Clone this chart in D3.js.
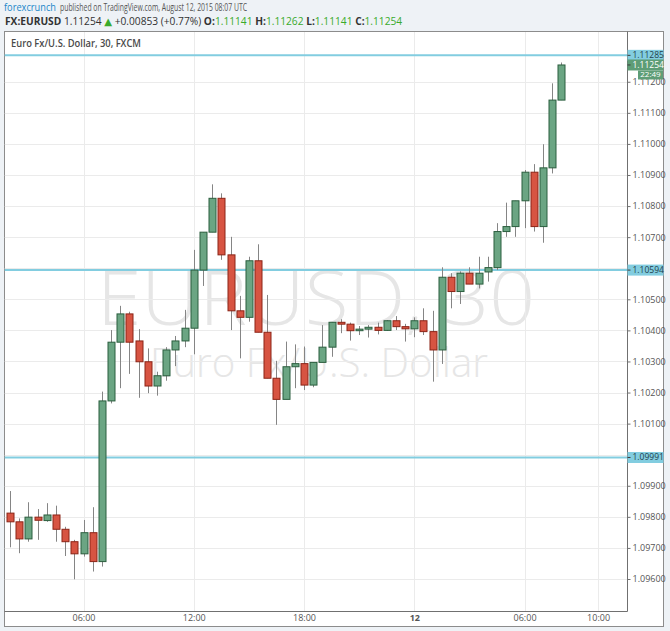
<!DOCTYPE html>
<html>
<head>
<meta charset="utf-8">
<script src="https://cdn.jsdelivr.net/npm/d3@7"></script>
<style>
  body { margin: 0; background: #eef2f6; }
  svg { display: block; font-family: "Open Sans", "DejaVu Sans", sans-serif; }
</style>
</head>
<body>
<script>
// EUR/USD 30 min candles, Aug 11 02:00 -> Aug 12 08:00 (UTC)
const startTime = new Date(Date.UTC(2015, 7, 11, 2, 0));
const opens = [
  1.09812, 1.09784, 1.09729, 1.09799, 1.09788, 1.09806, 1.09760, 1.09720, 1.09681, 1.09749,
  1.09656, 1.10173, 1.10362, 1.10453, 1.10366, 1.10299, 1.10221, 1.10254, 1.10337, 1.10366,
  1.10407, 1.10594, 1.10716, 1.10825, 1.10643, 1.10463, 1.10442, 1.10624, 1.10394, 1.10246,
  1.10178, 1.10283, 1.10293, 1.10224, 1.10297, 1.10346, 1.10426, 1.10420, 1.10399, 1.10404,
  1.10410, 1.10400, 1.10431, 1.10412, 1.10405, 1.10431, 1.10396, 1.10337, 1.10571, 1.10525,
  1.10584, 1.10549, 1.10588, 1.10602, 1.10718, 1.10734, 1.10817, 1.10909, 1.10734, 1.10923,
  1.11141
];
const highs = [
  1.09883, 1.09795, 1.09847, 1.09825, 1.09844, 1.09836, 1.09768, 1.09726, 1.09790, 1.09831,
  1.10203, 1.10401, 1.10479, 1.10460, 1.10404, 1.10342, 1.10267, 1.10346, 1.10382, 1.10466,
  1.10659, 1.10716, 1.10870, 1.10841, 1.10701, 1.10511, 1.10637, 1.10677, 1.10514, 1.10302,
  1.10364, 1.10355, 1.10348, 1.10297, 1.10417, 1.10426, 1.10436, 1.10425, 1.10414, 1.10417,
  1.10425, 1.10433, 1.10446, 1.10421, 1.10442, 1.10471, 1.10463, 1.10603, 1.10584, 1.10590,
  1.10603, 1.10637, 1.10637, 1.10745, 1.10811, 1.10817, 1.10916, 1.10935, 1.10999, 1.11195,
  1.11262
];
const lows = [
  1.09702, 1.09683, 1.09720, 1.09726, 1.09784, 1.09720, 1.09674, 1.09599, 1.09672, 1.09624,
  1.09640, 1.10165, 1.10214, 1.10260, 1.10183, 1.10198, 1.10190, 1.10238, 1.10285, 1.10346,
  1.10323, 1.10543, 1.10716, 1.10627, 1.10401, 1.10310, 1.10428, 1.10394, 1.10246, 1.10096,
  1.10178, 1.10214, 1.10208, 1.10217, 1.10297, 1.10315, 1.10391, 1.10367, 1.10385, 1.10377,
  1.10387, 1.10398, 1.10401, 1.10364, 1.10378, 1.10385, 1.10235, 1.10292, 1.10471, 1.10485,
  1.10549, 1.10535, 1.10557, 1.10594, 1.10701, 1.10701, 1.10729, 1.10718, 1.10682, 1.10905,
  1.11141
];
const closes = [
  1.09784, 1.09729, 1.09799, 1.09789, 1.09806, 1.09760, 1.09720, 1.09681, 1.09749, 1.09656,
  1.10173, 1.10362, 1.10453, 1.10362, 1.10299, 1.10221, 1.10254, 1.10337, 1.10366, 1.10407,
  1.10594, 1.10716, 1.10825, 1.10643, 1.10463, 1.10442, 1.10624, 1.10394, 1.10246, 1.10178,
  1.10283, 1.10293, 1.10224, 1.10297, 1.10346, 1.10426, 1.10420, 1.10399, 1.10404, 1.10410,
  1.10400, 1.10431, 1.10412, 1.10405, 1.10431, 1.10396, 1.10337, 1.10571, 1.10525, 1.10584,
  1.10549, 1.10584, 1.10602, 1.10718, 1.10734, 1.10817, 1.10909, 1.10734, 1.10923, 1.11141,
  1.11254
];
const priceTicks = [1.096, 1.097, 1.098, 1.099, 1.100, 1.101, 1.102, 1.103, 1.104,
  1.105, 1.106, 1.107, 1.108, 1.109, 1.110, 1.111, 1.112];
const timeTicks = ["2015-08-11T06:00Z", "2015-08-11T12:00Z", "2015-08-11T18:00Z",
  "2015-08-12T00:00Z", "2015-08-12T06:00Z", "2015-08-12T10:00Z"];
const timeTickLabels = ["06:00", "12:00", "18:00", "12", "06:00", "10:00"];
const levelLines = [1.11285, 1.10594, 1.09991];
const lastPrice = 1.11254;
const countdown = "22:49";

const width = 670;
const height = 631;
const plotLeft = 4.5, plotRight = 627.5, plotTop = 32, plotBottom = 611.5;

const candles = opens.map((o, i) => ({
  t: d3.utcMinute.offset(startTime, 30 * i),
  o: o, h: highs[i], l: lows[i], c: closes[i]
}));

const svg = d3.select("body").append("svg")
  .attr("width", width)
  .attr("height", height);

const x = d3.scaleUtc()
  .domain([startTime, candles[candles.length - 1].t])
  .range([10, 561.3]);
const y = d3.scaleLinear()
  .domain([1.096, 1.112])
  .range([579, 81.76]);

// header
svg.append("text")
  .attr("x", 4).attr("y", 10.5)
  .attr("font-size", 10).attr("fill", "#1b87c9")
  .attr("textLength", 52).attr("lengthAdjust", "spacingAndGlyphs")
  .text("forexcrunch");
svg.append("text")
  .attr("x", 60).attr("y", 10.5)
  .attr("font-size", 10).attr("fill", "#555")
  .attr("textLength", 187).attr("lengthAdjust", "spacingAndGlyphs")
  .text("published on TradingView.com, August 12, 2015 08:07 UTC");

const green = "#3aab2c";
const head2 = svg.append("text")
  .attr("x", 5).attr("y", 25)
  .attr("font-size", 10.2).attr("fill", "#333")
  .style("white-space", "pre");
const parts = [
  ["FX:EURUSD", "b"], [" 1.11254 ", ""], ["\u25B2", "g"], [" +0.00853 (+0.77%) ", ""],
  ["O:", "b"], ["1.11141", "g"], [" ", ""], ["H:", "b"], ["1.11262", "g"], [" ", ""],
  ["L:", "b"], ["1.11141", "g"], [" ", ""], ["C:", "b"], ["1.11254", "g"]
];
parts.forEach(([s, k]) => {
  head2.append("tspan")
    .attr("font-weight", k === "b" ? "bold" : null)
    .attr("fill", k === "g" ? green : null)
    .text(s);
});

// frame
svg.append("rect")
  .attr("x", 4.5).attr("y", 31.5)
  .attr("width", 659).attr("height", 595)
  .attr("fill", "#fff").attr("stroke", "#8c8c8c");

svg.append("defs").append("clipPath").attr("id", "plot")
  .append("rect")
  .attr("x", plotLeft).attr("y", plotTop)
  .attr("width", plotRight - plotLeft).attr("height", plotBottom - plotTop);

const plot = svg.append("g").attr("clip-path", "url(#plot)");

// watermark
plot.append("text")
  .attr("x", 316).attr("y", 325)
  .attr("text-anchor", "middle")
  .attr("font-size", 76).attr("font-weight", 300)
  .attr("fill", "#e6e6e6")
  .attr("textLength", 438).attr("lengthAdjust", "spacingAndGlyphs")
  .text("EURUSD, 30");
plot.append("text")
  .attr("x", 319).attr("y", 377)
  .attr("text-anchor", "middle")
  .attr("font-size", 40).attr("font-weight", 300)
  .attr("fill", "#e6e6e6")
  .attr("textLength", 338).attr("lengthAdjust", "spacingAndGlyphs")
  .text("Euro Fx/U.S. Dollar");

// grid
plot.selectAll(".hgrid")
  .data(priceTicks)
  .enter()
  .append("line")
  .attr("class", "hgrid")
  .attr("x1", plotLeft).attr("x2", plotRight)
  .attr("y1", (d) => Math.round(y(d)) + 0.5)
  .attr("y2", (d) => Math.round(y(d)) + 0.5)
  .attr("stroke", "#ebebeb");
plot.selectAll(".vgrid")
  .data(timeTicks)
  .enter()
  .append("line")
  .attr("class", "vgrid")
  .attr("x1", (d) => Math.round(x(new Date(d))) + 0.5)
  .attr("x2", (d) => Math.round(x(new Date(d))) + 0.5)
  .attr("y1", plotTop).attr("y2", plotBottom)
  .attr("stroke", "#ebebeb");

// title inside the pane
svg.append("text")
  .attr("x", 11).attr("y", 47)
  .attr("font-size", 10).attr("font-weight", 600)
  .attr("fill", "#4a4a4a")
  .attr("textLength", 130).attr("lengthAdjust", "spacingAndGlyphs")
  .text("Euro Fx/U.S. Dollar, 30, FXCM");

// horizontal levels
plot.selectAll(".level")
  .data(levelLines)
  .enter()
  .append("line")
  .attr("class", "level")
  .attr("x1", plotLeft).attr("x2", plotRight)
  .attr("y1", (d) => y(d)).attr("y2", (d) => y(d))
  .attr("stroke", "#82cde0").attr("stroke-width", 2);

// candles
const step = x(candles[1].t) - x(candles[0].t);
const bodyW = Math.round(step * 0.72);

const candle = plot.selectAll(".candle")
  .data(candles)
  .enter()
  .append("g")
  .attr("class", "candle");

candle.append("line")
  .attr("x1", (d) => Math.round(x(d.t)) + 0.5)
  .attr("x2", (d) => Math.round(x(d.t)) + 0.5)
  .attr("y1", (d) => y(d.h))
  .attr("y2", (d) => y(d.l))
  .attr("stroke", "#858585");

candle.append("rect")
  .attr("x", (d) => Math.round(x(d.t)) + 0.5 - bodyW / 2)
  .attr("y", (d) => y(Math.max(d.o, d.c)))
  .attr("width", bodyW)
  .attr("height", (d) => Math.max(1.5, Math.abs(y(d.o) - y(d.c))))
  .attr("fill", (d) => (d.c >= d.o ? "#6ba583" : "#d75442"))
  .attr("stroke", (d) => (d.c >= d.o ? "#2b5e3e" : "#8c2416"));

// axes
svg.append("line")
  .attr("x1", plotRight).attr("x2", plotRight)
  .attr("y1", 31.5).attr("y2", plotBottom)
  .attr("stroke", "#707070");
svg.append("line")
  .attr("x1", 4.5).attr("x2", plotRight)
  .attr("y1", plotBottom).attr("y2", plotBottom)
  .attr("stroke", "#707070");

// tick labels sitting right under a level box are covered in the original
const covered = (v) => levelLines.some((l) => Math.abs(y(l) - y(v)) < 6);
const shownTicks = priceTicks.filter((v) => !covered(v));

const yAxis = svg.append("g")
  .attr("transform", "translate(" + plotRight + ",0)")
  .call(d3.axisRight(y).tickValues(shownTicks).tickFormat(d3.format(".5f")).tickSize(3).tickPadding(2));
yAxis.select(".domain").remove();
yAxis.selectAll("line").attr("stroke", "#707070");
yAxis.selectAll("text").attr("font-size", 9).attr("fill", "#555")
  .attr("font-family", "\"Open Sans\", sans-serif");

const xAxis = svg.append("g")
  .attr("transform", "translate(0," + plotBottom + ")")
  .call(d3.axisBottom(x).tickValues(timeTicks.map((d) => new Date(d)))
    .tickFormat((d, i) => timeTickLabels[i]).tickSize(0).tickPadding(3));
xAxis.select(".domain").remove();
xAxis.selectAll("text").attr("font-size", 9).attr("fill", "#555")
  .attr("font-family", "\"Open Sans\", sans-serif")
  .attr("font-weight", (d, i) => (timeTickLabels[i] === "12" ? "bold" : null));

// price scale labels
const labels = levelLines.map((v) => ({ v: v, fill: "#82cde0", color: "#24414c" }))
  .concat([{ v: lastPrice, fill: "#5e9d76", color: "#fff" }]);

const lab = svg.selectAll(".plabel")
  .data(labels)
  .enter()
  .append("g")
  .attr("class", "plabel")
  .attr("transform", (d) => "translate(" + plotRight + "," + y(d.v) + ")");
lab.append("rect")
  .attr("x", 0).attr("y", -5.5)
  .attr("width", 36).attr("height", 11)
  .attr("fill", (d) => d.fill);
lab.append("line")
  .attr("x1", 0).attr("x2", 3)
  .attr("stroke", "#3c3c3c");
lab.append("text")
  .attr("x", 5).attr("dy", "0.35em")
  .attr("font-size", 8.5)
  .attr("fill", (d) => d.color)
  .text((d) => d3.format(".5f")(d.v));

const cd = svg.append("g")
  .attr("transform", "translate(638," + (y(lastPrice) + 5.5) + ")");
cd.append("rect")
  .attr("width", 25).attr("height", 9)
  .attr("fill", "#5e9d76");
cd.append("text")
  .attr("x", 12.5).attr("y", 4.2).attr("dy", "0.35em")
  .attr("text-anchor", "middle")
  .attr("font-size", 8).attr("fill", "#fff")
  .text(countdown);
</script>
</body>
</html>
